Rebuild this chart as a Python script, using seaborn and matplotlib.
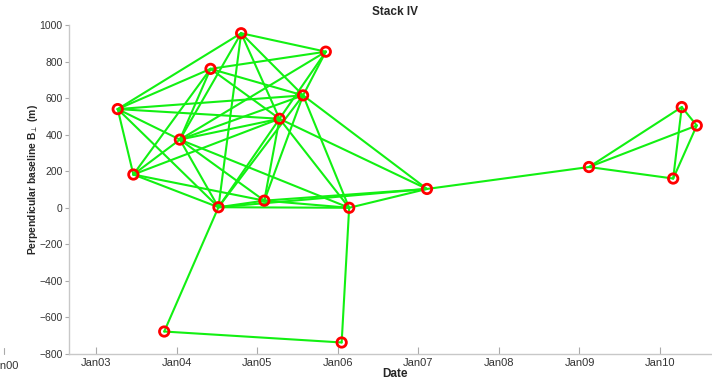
import matplotlib
matplotlib.use("Agg")
import matplotlib.pyplot as plt
import matplotlib.dates as mdates
from matplotlib.lines import Line2D
import pandas as pd
import seaborn as sns

# Acquisition dates and perpendicular baselines (m)
acq_dates = ["2003-04-08", "2003-06-18", "2003-11-05", "2004-01-15", "2004-06-02",
             "2004-07-08", "2004-10-19", "2005-02-01", "2005-04-11", "2005-07-27",
             "2005-11-07", "2006-01-18", "2006-02-21", "2007-02-09", "2009-02-13",
             "2010-04-10", "2010-06-17", "2010-03-02"]
bperp = [540, 182, -677, 373, 760, 3, 955, 39, 487, 615, 854, -737, 0, 103, 223,
         551, 450, 160]

# Interferometric pairs (indices into the acquisition lists)
pair_master = [0, 0, 0, 0, 0, 0, 0,
               1, 1, 1, 1, 1,
               3, 3, 3, 3, 3, 3, 3,
               4, 4, 4,
               6, 6, 6, 6,
               10, 10, 10,
               8, 9, 8, 9, 8, 9,
               9, 8,
               5, 5, 5, 7, 7, 12,
               2, 2, 11,
               13, 14, 14, 14, 15, 15, 16]
pair_slave = [1, 3, 4, 6, 8, 9, 5,
              3, 4, 8, 5, 7,
              4, 6, 8, 9, 5, 7, 12,
              10, 8, 9,
              10, 8, 9, 5,
              9, 8, 3,
              5, 5, 7, 7, 12, 12,
              13, 13,
              7, 12, 13, 12, 13, 13,
              5, 11, 12,
              14, 15, 16, 17, 16, 17, 17]

year_ticks = ["2003", "2004", "2005", "2006", "2007", "2008", "2009", "2010"]
y_ticks = [-800, -600, -400, -200, 0, 200, 400, 600, 800, 1000]

dates = pd.to_datetime(acq_dates)
nodes = pd.DataFrame({"date": dates, "bperp": bperp})

rows = []
for k, (i, j) in enumerate(zip(pair_master, pair_slave)):
    rows.append({"pair": k, "date": dates[i], "bperp": bperp[i]})
    rows.append({"pair": k, "date": dates[j], "bperp": bperp[j]})
edges = pd.DataFrame(rows)

sns.set_style("white")
plt.rcParams["font.family"] = ["Liberation Sans", "DejaVu Sans"]

fig = plt.figure(figsize=(7.12, 3.79), dpi=100)
ax = fig.add_axes([69 / 712, 1 - 354 / 379, (721 - 69) / 712, 329 / 379])

sns.lineplot(data=edges, x="date", y="bperp", units="pair", estimator=None,
             color="#12f012", linewidth=1.5, ax=ax, legend=False, sort=False)
sns.scatterplot(data=nodes, x="date", y="bperp", ax=ax, marker="o", s=46,
                facecolor="none", edgecolor="#ff0000", linewidth=2.0,
                zorder=5, legend=False)

ax.set_ylim(-800, 1000)
ax.set_yticks(y_ticks)
ax.set_xlim(pd.Timestamp("2002-08-30"), pd.Timestamp("2010-10-05"))
ax.set_xticks(pd.to_datetime([y + "-01-01" for y in year_ticks]))
ax.xaxis.set_major_formatter(mdates.DateFormatter("Jan%y"))

for side in ("top", "right"):
    ax.spines[side].set_visible(False)
for side in ("left", "bottom"):
    ax.spines[side].set_color("#c8c8c8")
    ax.spines[side].set_linewidth(1.0)

ax.tick_params(axis="x", direction="in", length=5, color="#aaaaaa",
               labelsize=8, labelcolor="#333333", pad=3)
ax.tick_params(axis="y", direction="out", length=3, color="#aaaaaa",
               labelsize=7.5, labelcolor="#333333", pad=1.5)
ax.tick_params(bottom=True, left=True)

ax.set_title("Stack IV", fontsize=8.5, fontweight="bold", pad=7)
ax.set_xlabel("Date", fontsize=8.5, fontweight="bold", labelpad=0)
ax.set_ylabel(r"Perpendicular baseline B$_{\perp}$ (m)", fontsize=7.4,
              fontweight="bold")
ax.yaxis.set_label_coords(-0.045, 0.53)

# Stray tick from the neighbouring panel
fig.add_artist(Line2D([4 / 712, 4 / 712], [1 - 354 / 379, 1 - 348 / 379],
                      color="#aaaaaa", linewidth=0.8))
fig.text(4 / 712, 1 - 366 / 379, "Jan00", fontsize=8, color="#333333",
         ha="center", va="center")

fig.savefig("out.png", dpi=100)
